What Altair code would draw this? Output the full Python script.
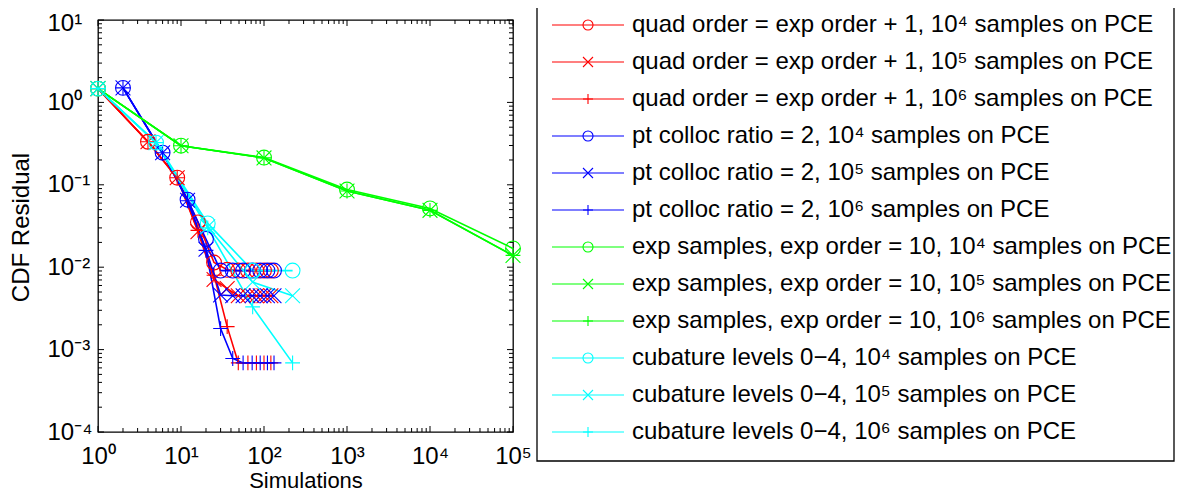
import altair as alt
import pandas as pd

# ---------------- data ----------------
methods = ["quad order = exp order + 1", "pt colloc ratio = 2",
           "exp samples, exp order = 10", "cubature levels 0\u22124"]
method_colors = ["#ff0000", "#0000ff", "#00ff00", "#00ffff"]
sample_labels = ["10\u2074", "10\u2075", "10\u2076"]

quad_x = [1, 4, 9, 16, 25, 36, 49, 64, 81, 100, 121]
quad_1e4 = [1.47, 0.333, 0.122, 0.035, 0.0114, 0.0093, 0.0091, 0.0091, 0.0091, 0.0091, 0.0091]
quad_1e5 = [1.47, 0.333, 0.122, 0.027, 0.0071, 0.0055, 0.0045, 0.0045, 0.0045, 0.0045, 0.0045]
quad_1e6 = [1.47, 0.333, 0.122, 0.028, 0.0080, 0.0019, 0.00069, 0.00069, 0.00069, 0.00069, 0.00069]

colloc_x = [2, 6, 12, 20, 30, 42, 56, 72, 90, 110, 132]
colloc_1e4 = [1.50, 0.245, 0.066, 0.022, 0.0091, 0.0091, 0.0091, 0.0091, 0.0091, 0.0091, 0.0091]
colloc_1e5 = [1.50, 0.245, 0.065, 0.0165, 0.0046, 0.0045, 0.0045, 0.0045, 0.0045, 0.0045, 0.0045]
colloc_1e6 = [1.50, 0.245, 0.064, 0.016, 0.0018, 0.00078, 0.00069, 0.00069, 0.00069, 0.00069, 0.00069]

exp_x = [1, 10, 100, 1000, 10000, 100000]
exp_1e4 = [1.47, 0.298, 0.214, 0.0875, 0.0516, 0.0169]
exp_1e5 = [1.47, 0.298, 0.212, 0.084, 0.049, 0.0139]
exp_1e6 = [1.47, 0.298, 0.212, 0.084, 0.049, 0.0139]

cub_x = [1, 5, 21, 73, 221]
cub_1e4 = [1.47, 0.325, 0.034, 0.0091, 0.0091]
cub_1e5 = [1.47, 0.325, 0.031, 0.0066, 0.0045]
cub_1e6 = [1.47, 0.325, 0.030, 0.0033, 0.00069]

x_tick_exponents = [0, 1, 2, 3, 4, 5]
x_tick_labels = ["10\u2070", "10\u00b9", "10\u00b2", "10\u00b3", "10\u2074", "10\u2075"]
y_tick_exponents = [-4, -3, -2, -1, 0, 1]
y_tick_labels = ["10\u207b\u2074", "10\u207b\u00b3", "10\u207b\u00b2", "10\u207b\u00b9", "10\u2070", "10\u00b9"]

# ---------------- tables ----------------
groups = [
    (quad_x, [quad_1e4, quad_1e5, quad_1e6]),
    (colloc_x, [colloc_1e4, colloc_1e5, colloc_1e6]),
    (exp_x, [exp_1e4, exp_1e5, exp_1e6]),
    (cub_x, [cub_1e4, cub_1e5, cub_1e6]),
]
rows, leg_rows = [], []
for m, (xs, ys_list) in enumerate(groups):
    for s, ys in enumerate(ys_list):
        label = f"{methods[m]}, {sample_labels[s]} samples on PCE"
        leg_rows.append({"r": m * 3 + s, "label": label, "method": methods[m], "samples": sample_labels[s]})
        for xv, yv in zip(xs, ys):
            rows.append({"series": label, "method": methods[m], "samples": sample_labels[s],
                         "order": m * 3 + s, "x": xv, "y": yv})
df = pd.DataFrame(rows)
leg_df = pd.DataFrame(leg_rows)

x_major = [10.0 ** e for e in x_tick_exponents]
y_major = [10.0 ** e for e in y_tick_exponents]
x_minor = [k * 10.0 ** e for e in x_tick_exponents[:-1] for k in range(2, 10)]
y_minor = [k * 10.0 ** e for e in y_tick_exponents[:-1] for k in range(2, 10)]


def label_expr(exps, labels):
    e = "round(log(datum.value)/LN10)"
    s = "".join(f"{e} == {k} ? '{l}' : " for k, l in zip(exps, labels))
    return s + "''"


W, H = 415, 412
FONT = "Liberation Sans"
FS = 24

xscale = alt.Scale(type="log", domain=[1, 1e5], nice=False)
yscale = alt.Scale(type="log", domain=[1e-4, 10], nice=False)
xaxis = alt.Axis(values=x_major, labelExpr=label_expr(x_tick_exponents, x_tick_labels),
                 ticks=False, domain=False, grid=False, labelFlush=False, labelOverlap=False,
                 labelPadding=12, labelBaseline="top", title="Simulations", titleFontSize=22,
                 titleX=W / 2, titleY=48, titleBaseline="middle", titleAlign="center")
yaxis = alt.Axis(values=y_major, labelExpr=label_expr(y_tick_exponents, y_tick_labels),
                 ticks=False, domain=False, grid=False, labelFlush=False, labelOverlap=False,
                 labelPadding=51, labelAlign="left",
                 labelOffset={"condition": {"test": "datum.value >= 5", "value": 3}, "value": 0},
                 title="CDF Residual",
                 titleX=-77, titleY=H / 2 + 1, titleBaseline="middle", titleAlign="center", titleAngle=270)

X = alt.X("x:Q", scale=xscale, axis=xaxis)
Y = alt.Y("y:Q", scale=yscale, axis=yaxis)

color = alt.Color("method:N", scale=alt.Scale(domain=methods, range=method_colors), legend=None)
xpath = "M-1,-1L1,1M-1,1L1,-1"
ppath = "M-1,0L1,0M0,-1L0,1"
shape = alt.Shape("samples:N", scale=alt.Scale(domain=sample_labels, range=["circle", xpath, ppath]),
                  legend=None)

base = alt.Chart(df)
lines = base.mark_line(strokeWidth=1.6, clip=False).encode(
    x=X, y=Y, color=color, detail="series:N")
points = base.mark_point(filled=False, size=220, strokeWidth=1.1, clip=False, opacity=1).encode(
    x=X, y=Y, color=color, shape=shape)


def ytick_layer(vals, length, right):
    d = pd.DataFrame({"y": vals})
    if right:
        enc = dict(x=alt.value(W - length), x2=alt.value(W))
    else:
        enc = dict(x=alt.value(0), x2=alt.value(length))
    return alt.Chart(d).mark_rule(color="black", strokeWidth=1).encode(y=Y, **enc)


def xtick_layer(vals, length, top):
    d = pd.DataFrame({"x": vals})
    if top:
        enc = dict(y=alt.value(0), y2=alt.value(length))
    else:
        enc = dict(y=alt.value(H - length), y2=alt.value(H))
    return alt.Chart(d).mark_rule(color="black", strokeWidth=1).encode(x=X, **enc)


ticks = [ytick_layer(y_major, 6, False), ytick_layer(y_minor, 4, False),
         ytick_layer(y_major, 6, True), ytick_layer(y_minor, 4, True),
         xtick_layer(x_major, 6, False), xtick_layer(x_minor, 4, False),
         xtick_layer(x_major, 6, True), xtick_layer(x_minor, 4, True)]

main = alt.layer(*ticks, lines, points)

# ---------------- legend (drawn to the right of the axes) ----------------
LX0, LX1 = 439, 1076          # box edges, px from the plot's left edge
LY = alt.Y("r:Q", scale=alt.Scale(domain=[-5 / 37, 407 / 37], reverse=True, nice=False, zero=False),
           axis=None)
lbase = alt.Chart(leg_df)
leg_box = alt.Chart(pd.DataFrame({"k": [0]})).mark_rect(
    fillOpacity=0, stroke="black", strokeWidth=1.3).encode(
    x=alt.value(LX0), x2=alt.value(LX1), y=alt.value(-40), y2=alt.value(441))
leg_lines = lbase.mark_rule(strokeWidth=1.2).encode(
    y=LY, x=alt.value(LX0 + 15), x2=alt.value(LX0 + 87), color=color)
leg_pts = lbase.mark_point(filled=False, size=100, strokeWidth=1.1, opacity=1).encode(
    y=LY, x=alt.value(LX0 + 51), color=color, shape=shape)
leg_text = lbase.mark_text(align="left", baseline="middle", fontSize=FS, font=FONT, color="black").encode(
    y=LY, x=alt.value(LX0 + 95), text="label:N")
legend = alt.layer(leg_box, leg_lines, leg_pts, leg_text)

chart = alt.layer(main, legend).resolve_scale(y="independent").properties(
    width=W, height=H,
    autosize=alt.AutoSizeParams(type="none"),
    padding={"left": 90, "top": 12, "right": 662, "bottom": 60},
    background="white",
).configure_view(stroke="black", strokeWidth=1.3).configure_axis(
    labelFont=FONT, titleFont=FONT, labelFontSize=FS, titleFontSize=FS,
    labelColor="black", titleColor="black", titleFontWeight="normal"
)

chart.save("out.html", embed_options={"renderer": "svg", "actions": False})
